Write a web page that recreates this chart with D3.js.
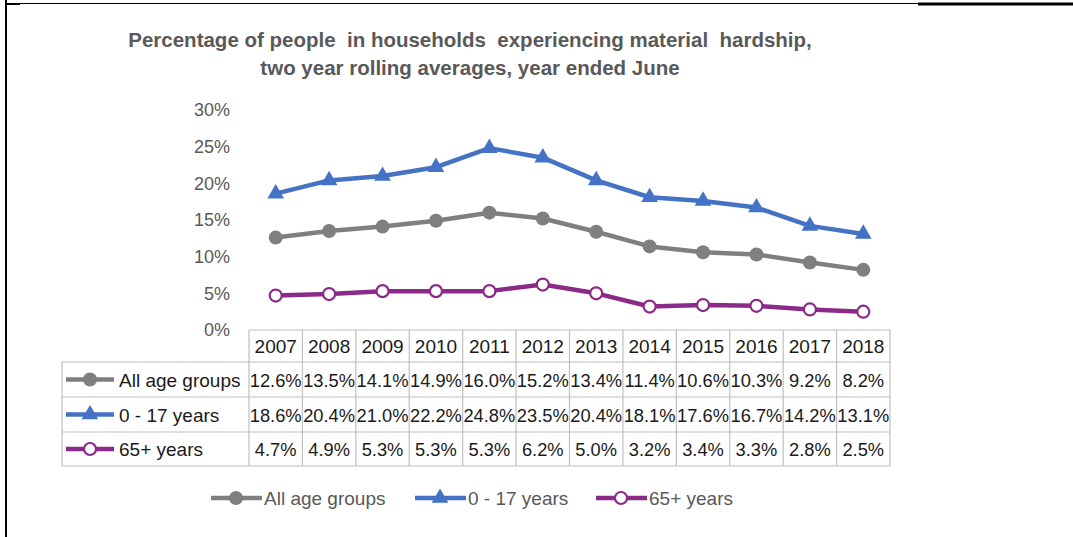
<!DOCTYPE html>
<html>
<head>
<meta charset="utf-8">
<script src="https://cdn.jsdelivr.net/npm/d3@7"></script>
<style>
  body { margin: 0; background: #fff; }
  svg { display: block; font-family: 'Liberation Sans', Arial, sans-serif; }
</style>
</head>
<body>
<div id="chart"></div>
<script>
const years = ['2007', '2008', '2009', '2010', '2011', '2012', '2013', '2014', '2015', '2016', '2017', '2018'];
const allAges = [12.6, 13.5, 14.1, 14.9, 16.0, 15.2, 13.4, 11.4, 10.6, 10.3, 9.2, 8.2];
const kids = [18.6, 20.4, 21.0, 22.2, 24.8, 23.5, 20.4, 18.1, 17.6, 16.7, 14.2, 13.1];
const seniors = [4.7, 4.9, 5.3, 5.3, 5.3, 6.2, 5.0, 3.2, 3.4, 3.3, 2.8, 2.5];
const seriesNames = ['All age groups', '0 - 17 years', '65+ years'];
const yTicks = [0, 5, 10, 15, 20, 25, 30];
const titleLines = [
  'Percentage of people  in households  experiencing material  hardship,',
  'two year rolling averages, year ended June'
];

const series = [
  { name: seriesNames[0], values: allAges, color: '#7f7f7f', marker: 'dot' },
  { name: seriesNames[1], values: kids, color: '#4472c4', marker: 'tri' },
  { name: seriesNames[2], values: seniors, color: '#8b2a87', marker: 'ring' }
];

const W = 1073, H = 537;
const svg = d3.select('#chart').append('svg')
  .attr('width', W).attr('height', H);

svg.append('rect').attr('width', W).attr('height', H).attr('fill', '#fff');

// page frame bits (document border around the chart)
svg.append('line').attr('x1', 6).attr('x2', 6).attr('y1', 0).attr('y2', H)
  .attr('stroke', '#000').attr('stroke-width', 2);
svg.append('line').attr('x1', 6).attr('x2', 918).attr('y1', 3.5).attr('y2', 3.5)
  .attr('stroke', '#000').attr('stroke-width', 1);
svg.append('line').attr('x1', 6).attr('x2', 20).attr('y1', 4).attr('y2', 4)
  .attr('stroke', '#000').attr('stroke-width', 2);
svg.append('line').attr('x1', 918).attr('x2', W).attr('y1', 4).attr('y2', 4)
  .attr('stroke', '#000').attr('stroke-width', 3);

// title
svg.append('text')
  .attr('x', 470).attr('y', 47)
  .attr('text-anchor', 'middle')
  .attr('fill', '#595959')
  .style('font-weight', 'bold')
  .style('font-size', '20.5px')
  .style('white-space', 'pre')
  .selectAll('tspan')
  .data(titleLines)
  .enter().append('tspan')
  .attr('x', 470)
  .attr('dy', (d, i) => i === 0 ? 0 : 28)
  .text(d => d);

// scales
const x = d3.scaleBand().domain(years).range([249, 890]).padding(0);
const y = d3.scaleLinear().domain([0, 30]).range([330, 110]);
const cx = d => x(d) + x.bandwidth() / 2;

// y axis (labels only)
const yAxis = svg.append('g')
  .attr('transform', 'translate(236,0)')
  .call(d3.axisLeft(y).tickValues(yTicks).tickFormat(d => d + '%').tickSize(0).tickPadding(6));
yAxis.select('.domain').remove();
yAxis.selectAll('text')
  .attr('fill', '#595959')
  .style('font-size', '18px')
  .style('font-family', "'Liberation Sans', Arial, sans-serif");

// lines
const line = d3.line()
  .x((d, i) => cx(years[i]))
  .y(d => y(d));

function drawMarker(g, type, color, px, py) {
  if (type === 'dot') {
    g.append('circle').attr('cx', px).attr('cy', py).attr('r', 7).attr('fill', color);
  } else if (type === 'tri') {
    g.append('path')
      .attr('d', d3.symbol().type(d3.symbolTriangle).size(120)())
      .attr('transform', `translate(${px},${py})`)
      .attr('fill', color);
  } else {
    g.append('circle').attr('cx', px).attr('cy', py).attr('r', 6)
      .attr('fill', '#fff').attr('stroke', color).attr('stroke-width', 2.2);
  }
}

series.forEach(s => {
  const g = svg.append('g');
  g.append('path')
    .datum(s.values)
    .attr('fill', 'none')
    .attr('stroke', s.color)
    .attr('stroke-width', 4.5)
    .attr('stroke-linejoin', 'round')
    .attr('d', line);
  s.values.forEach((v, i) => drawMarker(g, s.marker, s.color, cx(years[i]), y(v)));
});

// data table
const grid = '#bfbfbf';
const tableLeft = 62, tableRight = 890;
const rowEdges = [330, 362, 397, 432, 466];
const tbl = svg.append('g');

rowEdges.forEach((ry, i) => {
  tbl.append('line')
    .attr('x1', i === 0 ? x(years[0]) : tableLeft).attr('x2', tableRight)
    .attr('y1', ry).attr('y2', ry)
    .attr('stroke', grid).attr('stroke-width', 1.2);
});
tbl.append('line').attr('x1', tableLeft).attr('x2', tableLeft)
  .attr('y1', rowEdges[1]).attr('y2', rowEdges[4]).attr('stroke', grid).attr('stroke-width', 1.2);
years.forEach(yr => {
  tbl.append('line').attr('x1', x(yr)).attr('x2', x(yr))
    .attr('y1', rowEdges[0]).attr('y2', rowEdges[4]).attr('stroke', grid).attr('stroke-width', 1.2);
});
tbl.append('line').attr('x1', tableRight).attr('x2', tableRight)
  .attr('y1', rowEdges[0]).attr('y2', rowEdges[4]).attr('stroke', grid).attr('stroke-width', 1.2);

// header years
tbl.selectAll('.yr')
  .data(years)
  .enter().append('text')
  .attr('x', d => cx(d))
  .attr('y', (rowEdges[0] + rowEdges[1]) / 2 + 7)
  .attr('text-anchor', 'middle')
  .attr('fill', '#1a1a1a')
  .style('font-size', '19px')
  .text(d => d);

// series rows
series.forEach((s, r) => {
  const mid = (rowEdges[r + 1] + rowEdges[r + 2]) / 2;
  tbl.append('line').attr('x1', 66).attr('x2', 114).attr('y1', mid).attr('y2', mid)
    .attr('stroke', s.color).attr('stroke-width', 4.5);
  drawMarker(tbl, s.marker, s.color, 90, mid);
  tbl.append('text')
    .attr('x', 119).attr('y', mid + 7)
    .attr('fill', '#1a1a1a')
    .style('font-size', '19px')
    .text(s.name);
  tbl.selectAll(null)
    .data(s.values)
    .enter().append('text')
    .attr('x', (d, i) => cx(years[i]))
    .attr('y', mid + 7)
    .attr('text-anchor', 'middle')
    .attr('fill', '#1a1a1a')
    .style('font-size', '18.3px')
    .text(d => d.toFixed(1) + '%');
});

// legend
const legendItems = [
  { s: series[0], x0: 211 },
  { s: series[1], x0: 415 },
  { s: series[2], x0: 596 }
];
const leg = svg.append('g');
legendItems.forEach(it => {
  const ly = 498;
  leg.append('line').attr('x1', it.x0).attr('x2', it.x0 + 51).attr('y1', ly).attr('y2', ly)
    .attr('stroke', it.s.color).attr('stroke-width', 4.5);
  drawMarker(leg, it.s.marker, it.s.color, it.x0 + 25, ly);
  leg.append('text')
    .attr('x', it.x0 + 53).attr('y', ly + 7)
    .attr('fill', '#595959')
    .style('font-size', '19px')
    .text(it.s.name);
});
</script>
</body>
</html>
